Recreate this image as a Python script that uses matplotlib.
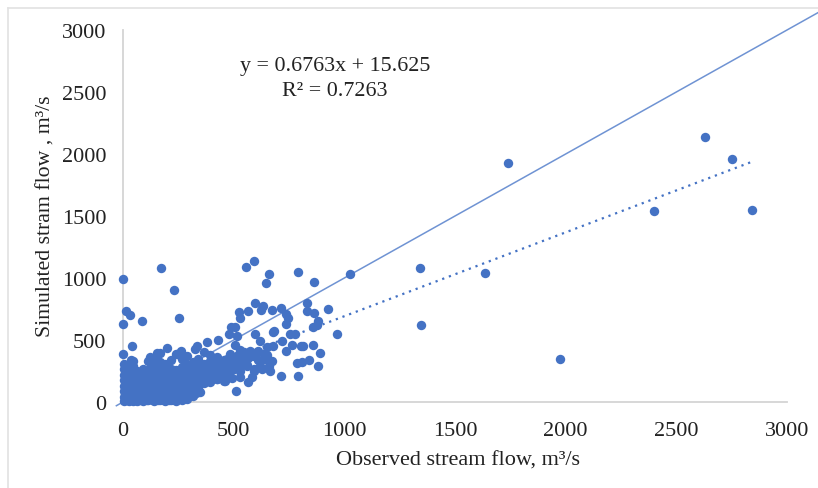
import matplotlib
matplotlib.use("Agg")
import matplotlib.pyplot as plt
from matplotlib.lines import Line2D

# dense cluster near the origin, read column by column
blob_x = [5]*8 + [25]*7 + [45]*8 + [65]*6 + [90]*7 + [115]*7 + [140]*8 + [165]*8 + [190]*7 + [215]*7 \
    + [240]*7 + [265]*7 + [290]*7 + [315]*6 + [340]*6 + [365]*5 + [395]*5 + [425]*4 + [455]*4 + [485]*4
blob_y = [5, 40, 85, 130, 175, 220, 265, 305,
          10, 55, 100, 150, 195, 240, 285,
          8, 50, 95, 140, 190, 235, 290, 330,
          12, 60, 105, 155, 200, 250,
          7, 45, 90, 135, 180, 225, 265,
          15, 60, 110, 155, 205, 260, 330,
          6, 50, 95, 145, 190, 240, 290, 350,
          14, 65, 115, 160, 210, 265, 320, 395,
          8, 50, 100, 150, 200, 250, 310,
          16, 60, 110, 160, 215, 270, 340,
          10, 55, 105, 150, 205, 260, 385,
          20, 70, 120, 170, 225, 280, 350,
          25, 80, 130, 185, 240, 300, 370,
          45, 100, 150, 205, 260, 320,
          85, 125, 180, 235, 290, 350,
          150, 205, 260, 310, 400,
          165, 220, 275, 330, 380,
          185, 240, 300, 360,
          170, 225, 280, 340,
          200, 260, 320, 390]

# second pass through the cluster, between the columns above
fill_x = [15, 15, 15, 15, 15, 15, 35, 35, 35, 35, 35, 55, 55, 55, 55, 55, 78, 78, 78, 78, 102, 102, 102, 102, 102,
          128, 128, 128, 128, 128, 152, 152, 152, 152, 152, 178, 178, 178, 178, 178, 178, 202, 202, 202, 202, 202,
          228, 228, 228, 228, 228, 252, 252, 252, 252, 278, 278, 278, 278, 302, 302, 302, 328, 328, 328]
fill_y = [25, 70, 115, 160, 205, 250, 30, 78, 125, 170, 215, 30, 75, 120, 165, 220, 35, 80, 125, 170, 30, 75, 120,
          170, 215, 35, 85, 130, 180, 225, 30, 75, 120, 170, 215, 40, 90, 140, 185, 235, 290, 30, 75, 125, 175, 225,
          35, 85, 130, 185, 235, 35, 80, 130, 180, 45, 95, 145, 200, 55, 105, 160, 75, 125, 175]

# third pass, the low flows are packed tightly
low_x = [8, 20, 32, 48, 60, 72, 84, 96, 110, 122, 134, 146, 158, 172, 184, 196, 208, 222, 234, 246, 258, 272,
         8, 20, 32, 48, 60, 72, 84, 96, 110, 122, 134, 146, 158, 172, 184, 196, 208, 222, 234, 246, 258, 272, 296,
         12, 28, 42, 58, 84, 108, 125, 146, 160, 172, 196, 210, 222, 246, 270, 285, 310]
low_y = [20, 18, 22, 20, 24, 20, 18, 22, 20, 24, 18, 22, 20, 24, 18, 22, 20, 24, 18, 22, 30, 35,
         62, 65, 60, 64, 62, 60, 66, 62, 64, 60, 66, 62, 60, 64, 62, 66, 60, 64, 62, 66, 60, 64, 90,
         145, 140, 150, 142, 148, 140, 150, 145, 142, 150, 140, 148, 142, 150, 145, 140, 130]

# band to the right of the cluster
band_x = [350, 380, 380, 380, 410, 410, 410, 440, 440, 440, 470, 470, 470, 500, 500, 530, 530, 530, 560, 560,
          590, 590, 610, 620, 650, 660, 530, 545, 575, 605, 635]
band_y = [230, 180, 240, 300, 190, 250, 310, 200, 260, 320, 230, 290, 350, 330, 270, 350, 300, 200, 350, 290,
          370, 250, 340, 290, 380, 290, 420, 395, 410, 400, 390]

# scattered points outside the cluster
scatter_x = [0, 170, 232, 254, 86, 14, 32, 0, 42, 2, 556, 590, 658, 646, 792, 864, 1027, 926, 831, 830,
             864, 882, 875, 860, 965, 595, 634, 625, 675, 714, 736, 747, 736, 524, 563, 529, 486, 506,
             480, 514, 596, 619, 682, 676, 755, 777, 717, 762, 736, 428, 506, 378, 336, 325, 262, 242,
             197, 155, 122, 35, 860, 815, 804, 679, 649, 890, 842, 807, 785, 881, 792, 714, 664, 672,
             626, 619, 510, 563, 581, 491, 461, 423, 348, 520, 545, 570, 600, 640, 560, 530, 590, 610,
             1340, 1347, 1635, 1740, 1975, 2400, 2630, 2750, 2840]
scatter_y = [992, 1080, 903, 680, 650, 731, 702, 632, 452, 390, 1091, 1140, 1032, 962, 1051, 970, 1030,
             753, 801, 731, 718, 656, 621, 605, 551, 798, 771, 739, 742, 761, 712, 675, 629, 723, 734,
             677, 605, 602, 548, 535, 551, 492, 572, 562, 548, 548, 495, 460, 414, 500, 460, 481, 454,
             427, 414, 387, 433, 395, 360, 341, 460, 454, 449, 449, 441, 392, 341, 325, 312, 293, 212,
             212, 247, 333, 266, 333, 89, 159, 204, 191, 172, 185, 78, 380, 400, 360, 385, 350, 300,
             250, 270, 410, 1080, 620, 1040, 1930, 350, 1540, 2140, 1960, 1550]

obs_flow = blob_x + fill_x + low_x + band_x + scatter_x
sim_flow = blob_y + fill_y + low_y + band_y + scatter_y

ticks = [0, 500, 1000, 1500, 2000, 2500, 3000]
ideal_x = [-30, 3140]
trend_x = [0, 2850]
slope, intercept = 0.6763, 15.625
trend_y = [slope*v + intercept for v in trend_x]

blue = "#4472c4"
line_blue = "#6f93d3"
grey = "#d4d4d4"
text_col = "#222222"
W, H = 818, 489

plt.rcParams['font.family'] = ['Liberation Serif', 'DejaVu Serif']

fig = plt.figure(figsize=(W/100, H/100), dpi=100)
ax = fig.add_axes([123/W, 1 - 403/H, 664/W, 372/H])

ax.plot(ideal_x, ideal_x, color=line_blue, lw=1.1, clip_on=False, zorder=3)
ax.plot(trend_x, trend_y, color=blue, lw=1.6, ls=(0, (1, 2.2)), clip_on=False, zorder=3)
ax.scatter(obs_flow, sim_flow, s=46, color=blue, linewidths=0, clip_on=False, zorder=4)

ax.set_xlim(0, 3000)
ax.set_ylim(0, 3000)
ax.set_xticks(ticks)
ax.set_yticks(ticks)
ax.tick_params(length=0, labelsize=16, colors=text_col)
ax.tick_params(axis='y', pad=12)
ax.tick_params(axis='x', pad=14)
for name in ['top', 'right']:
    ax.spines[name].set_visible(False)
for name in ['left', 'bottom']:
    ax.spines[name].set_color(grey)
    ax.spines[name].set_linewidth(1.3)

fig.text(335/W, 1 - 66/H, "y = 0.6763x + 15.625", ha='center', va='center', fontsize=15.8, color=text_col)
fig.text(335/W, 1 - 91/H, "R² = 0.7263", ha='center', va='center', fontsize=15.8, color=text_col)
fig.text(458/W, 1 - 461/H, "Observed stream flow, m³/s", ha='center', va='center', fontsize=16, color=text_col)
fig.text(46/W, 1 - 216/H, "Simulated stram flow , m³/s", rotation=90, ha='center', va='center',
         fontsize=15.7, color=text_col)

# chart frame, only top and left are in the crop
fig.add_artist(Line2D([8/W, 8/W], [0, 1 - 9/H], color="#e2e2e2", lw=1.2))
fig.add_artist(Line2D([8/W, 1], [1 - 9/H, 1 - 9/H], color="#e2e2e2", lw=1.2))

fig.savefig("out.png", dpi=100)
